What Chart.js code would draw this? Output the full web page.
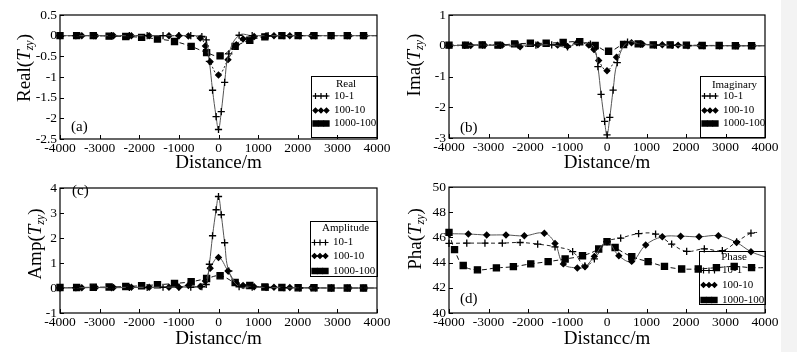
<!DOCTYPE html>
<html>
<head>
<meta charset="utf-8">
<script src="https://cdn.jsdelivr.net/npm/chart.js@4.4.0/dist/chart.umd.min.js"></script>
<style>
  body { margin: 0; background: #fff; width: 797px; height: 352px; overflow: hidden; position: relative; }
  .panel { position: absolute; }
  .strip { position: absolute; left: 781px; top: 0; width: 16px; height: 352px; background: #f3f3f3; }
</style>
</head>
<body>
<div class="panel" style="left:0;top:0;width:397px;height:176px"><canvas id="chartA"></canvas></div>
<div class="panel" style="left:397px;top:0;width:400px;height:176px"><canvas id="chartB"></canvas></div>
<div class="panel" style="left:0;top:176px;width:397px;height:176px"><canvas id="chartC"></canvas></div>
<div class="panel" style="left:397px;top:176px;width:400px;height:176px"><canvas id="chartD"></canvas></div>
<div class="strip"></div>
<script>
const SERIF = '"Liberation Serif", "Times New Roman", serif';
const seriesNames = ["10-1", "100-10", "1000-100"];

// distances (m) of the sample points, panels a-c
const distPlus = [-4000, -3600, -3150, -2700, -2250, -1800, -1400, -1000, -700, -420, -310, -230, -150, -60, 0, 70, 155, 260, 520, 850, 1250, 1650, 2050, 2450, 2850, 3250, 3650, 4000];
const distDiamond = [-4000, -3450, -3100, -2650, -2200, -1750, -1250, -1000, -760, -460, -330, -210, 0, 240, 450, 620, 900, 1200, 1400, 1800, 2350, 2850, 3300, 3700, 4000];
const distSquare = [-4000, -3580, -3160, -2760, -2340, -1940, -1540, -1110, -690, -300, 40, 420, 790, 1170, 1600, 2010, 2410, 2840, 3250, 3660, 4000];

// (a) real part
const realPlus = [0, 0, 0, 0, 0, 0, 0, 0, 0, -0.02, -0.1, -0.62, -1.32, -1.96, -2.27, -1.84, -1.13, -0.44, 0.01, 0, 0, 0, 0, 0, 0, 0, 0, 0];
const realDiamond = [0, 0, 0, 0, 0, 0, 0, 0, -0.01, -0.06, -0.25, -0.63, -0.95, -0.58, -0.22, -0.08, -0.02, 0, 0, 0, 0, 0, 0, 0, 0];
const realSquare = [0, 0, 0, -0.01, -0.02, -0.04, -0.08, -0.14, -0.26, -0.41, -0.49, -0.26, -0.11, -0.03, 0, 0, 0, 0, 0, 0, 0];

// (b) imaginary part
const imagPlus = [0.01, 0.01, 0.02, 0.01, 0.02, 0.02, 0.03, -0.04, 0.1, 0.05, -0.1, -0.68, -1.58, -2.46, -2.9, -2.33, -1.44, -0.55, 0.12, 0.05, 0.02, 0.01, 0, 0, 0, 0, 0, 0];
const imagDiamond = [0, 0.01, 0.02, 0.02, -0.03, 0.03, 0.02, -0.02, 0.1, 0.02, -0.12, -0.48, -0.81, -0.37, 0.05, 0.1, 0.05, 0.02, 0.03, 0.02, 0.01, 0, 0, 0, 0];
const imagSquare = [0.02, 0.02, 0.03, 0.02, 0.06, 0.08, 0.08, 0.11, 0.13, 0.01, -0.18, 0.04, 0.06, 0.03, 0.03, 0.02, 0.01, 0.01, 0, 0, 0];

// (c) amplitude
const ampPlus = [0.01, 0.01, 0.02, 0.01, 0.02, 0.02, 0.03, 0.04, 0.03, 0.05, 0.14, 0.95, 2.09, 3.13, 3.66, 2.93, 1.81, 0.68, 0.05, 0.03, 0.02, 0.01, 0, 0, 0, 0, 0, 0];
const ampDiamond = [0, 0.01, 0.02, 0.02, 0.03, 0.03, 0.03, 0.03, 0.1, 0.06, 0.28, 0.79, 1.22, 0.68, 0.2, 0.1, 0.05, 0.02, 0.03, 0.02, 0.01, 0, 0, 0, 0];
const ampSquare = [0.02, 0.02, 0.03, 0.04, 0.06, 0.09, 0.13, 0.18, 0.25, 0.38, 0.49, 0.22, 0.1, 0.04, 0.02, 0.01, 0.01, 0, 0, 0, 0];

// (d) phase, own sample points
const phaseDistPlus = [-4000, -3550, -3090, -2650, -2200, -1755, -1316, -870, -560, -320, 0, 346, 800, 1230, 1637, 2017, 2464, 2920, 3282, 3645, 3800];
const phasePlus = [45.53, 45.55, 45.55, 45.55, 45.6, 45.47, 45.26, 44.87, 43.75, 44.3, 45.66, 45.95, 46.3, 46.27, 45.47, 44.9, 45.1, 44.95, 45.66, 46.34, 46.4];
const phaseDistDiamond = [-4000, -3510, -3046, -2557, -2093, -1586, -1316, -1105, -751, -557, -321, 0, 300, 625, 980, 1400, 1865, 2330, 2820, 3280, 3645, 4000];
const phaseDiamond = [46.3, 46.27, 46.2, 46.2, 46.13, 46.34, 45.53, 43.9, 43.58, 43.68, 44.5, 45.66, 44.55, 44.1, 45.4, 46.05, 46.1, 46.05, 46.13, 45.6, 44.87, 44.47];
const phaseDistSquare = [-4000, -3860, -3640, -3280, -2800, -2370, -1930, -1490, -1060, -620, -210, 0, 205, 627, 1040, 1455, 1890, 2310, 2770, 3220, 3660, 4000];
const phaseSquare = [46.4, 45.03, 43.77, 43.43, 43.58, 43.68, 43.9, 44.08, 44.29, 44.55, 45.08, 45.66, 45.2, 44.47, 44.08, 43.7, 43.5, 43.5, 43.6, 43.7, 43.6, 43.6];

function pts(xs, ys) {
  return xs.map((x, i) => ({ x: x, y: ys[i] }));
}

// last point of every series only carries the line to the frame
function lastHidden(r) {
  return ctx => (ctx.dataIndex === ctx.dataset.data.length - 1 ? 0 : r);
}

const markers = [
  { pointStyle: "cross", radius: 3.6, legendRadius: 3 },
  { pointStyle: "rectRot", radius: 2.8, legendRadius: 2.4 },
  { pointStyle: "rect", radius: 4.3, legendRadius: 3.6 },
];

function makeSet(i, xs, ys, line) {
  return {
    label: seriesNames[i],
    data: pts(xs, ys),
    showLine: true,
    tension: 0.4,
    borderColor: line.color,
    borderWidth: 1,
    borderDash: line.dash,
    pointStyle: markers[i].pointStyle,
    legendRadius: markers[i].legendRadius,
    pointRadius: lastHidden(markers[i].radius),
    pointHoverRadius: 0,
    pointBorderWidth: 1.3,
    pointBorderColor: "#000",
    pointBackgroundColor: "#000",
    clip: 8,
  };
}

const decor = {
  id: "decor",
  beforeDatasetsDraw(chart, args, opts) {
    const ctx = chart.ctx;
    const lg = opts.legend;
    ctx.save();
    ctx.strokeStyle = "#000";
    ctx.fillStyle = "#000";
    ctx.lineWidth = 1;
    ctx.strokeRect(lg.x + 0.5, lg.y + 0.5, lg.w, lg.h);
    ctx.font = "11px " + SERIF;
    ctx.textBaseline = "middle";
    ctx.textAlign = "center";
    ctx.fillText(lg.title, lg.x + lg.w / 2 + 2, lg.y + lg.rows[0]);
    ctx.textAlign = "left";
    chart.data.datasets.forEach((ds, i) => {
      const yy = lg.y + lg.rows[i + 1];
      ctx.setLineDash([]);
      ctx.lineWidth = 1;
      ctx.beginPath();
      ctx.moveTo(lg.x + 2, yy);
      ctx.lineTo(lg.x + 17, yy);
      ctx.stroke();
      [4.5, 10, 15.5].forEach(dx => {
        ctx.lineWidth = 1.2;
        Chart.helpers.drawPoint(ctx, { pointStyle: ds.pointStyle, radius: ds.legendRadius, borderWidth: 1.2, rotation: 0 }, lg.x + dx, yy);
      });
      ctx.fillText(ds.label, lg.x + 23, yy);
    });
    ctx.restore();
  },
  afterDraw(chart, args, opts) {
    const ctx = chart.ctx;
    const a = chart.chartArea;
    const sx = chart.scales.x;
    const sy = chart.scales.y;
    ctx.save();
    ctx.strokeStyle = "#000";
    ctx.lineWidth = 1.2;
    ctx.strokeRect(a.left, a.top, a.right - a.left, a.bottom - a.top);
    // short inward tick marks
    ctx.lineWidth = 1;
    ctx.beginPath();
    sx.ticks.forEach(t => {
      const p = Math.round(sx.getPixelForValue(t.value)) + 0.5;
      ctx.moveTo(p, a.bottom);
      ctx.lineTo(p, a.bottom - 4);
    });
    sy.ticks.forEach(t => {
      const p = Math.round(sy.getPixelForValue(t.value)) + 0.5;
      ctx.moveTo(a.left, p);
      ctx.lineTo(a.left + 4, p);
    });
    ctx.stroke();

    ctx.fillStyle = "#000";
    ctx.textBaseline = "middle";
    // x title
    ctx.textAlign = "center";
    ctx.font = "19px " + SERIF;
    ctx.fillText(opts.xTitle, (a.left + a.right) / 2, opts.xTitleY);
    // panel label
    ctx.textAlign = "left";
    ctx.font = "15px " + SERIF;
    ctx.fillText(opts.label, opts.labelX, opts.labelY);
    // y title with italic T and subscript zy
    const parts = [
      { t: opts.yName + "(", f: "19px " + SERIF, dy: 0 },
      { t: "T", f: "italic 19px " + SERIF, dy: 0 },
      { t: "zy", f: "italic 12px " + SERIF, dy: 5 },
      { t: ")", f: "19px " + SERIF, dy: 0 },
    ];
    let total = 0;
    parts.forEach(p => { ctx.font = p.f; p.w = ctx.measureText(p.t).width; total += p.w; });
    ctx.translate(opts.yTitleX, opts.yTitleY);
    ctx.rotate(-Math.PI / 2);
    let cx = -total / 2;
    parts.forEach(p => {
      ctx.font = p.f;
      ctx.fillText(p.t, cx, p.dy);
      cx += p.w;
    });
    ctx.restore();
  },
};

function makePanel(id, cfg) {
  const tickFont = { family: SERIF, size: 13.5 };
  return new Chart(document.getElementById(id), {
    type: "scatter",
    data: { datasets: cfg.datasets },
    options: {
      responsive: true,
      maintainAspectRatio: false,
      animation: false,
      events: [],
      layout: { padding: { top: cfg.padTop, right: cfg.padRight, left: 0, bottom: 0 } },
      plugins: {
        legend: { display: false },
        tooltip: { enabled: false },
        decor: cfg.decor,
      },
      scales: {
        x: {
          type: "linear",
          min: -4000,
          max: 4000,
          grid: { display: false, drawTicks: false },
          border: { display: false },
          ticks: { stepSize: 1000, color: "#000", font: tickFont, padding: 1, maxRotation: 0, callback: v => String(v) },
          afterFit: s => { s.height = cfg.xHeight; },
        },
        y: {
          min: cfg.yMin,
          max: cfg.yMax,
          grid: { display: false, drawTicks: false },
          border: { display: false },
          ticks: { stepSize: cfg.yStep, color: "#000", font: tickFont, padding: 3, callback: v => String(v) },
          afterFit: s => { s.width = cfg.yWidth; },
        },
      },
    },
    plugins: [decor],
  });
}

const solidGray = { color: "#555", dash: [] };
const dotted = { color: "#222", dash: [2, 2] };
const dashed = { color: "#111", dash: [5, 3] };

makePanel("chartA", {
  datasets: [
    makeSet(0, distPlus, realPlus, solidGray),
    makeSet(1, distDiamond, realDiamond, dotted),
    makeSet(2, distSquare, realSquare, dashed),
  ],
  yMin: -2.5, yMax: 0.5, yStep: 0.5,
  padTop: 15, padRight: 20, xHeight: 37, yWidth: 60,
  decor: {
    xTitle: "Distance/m", xTitleY: 163, yName: "Real", yTitleX: 25, yTitleY: 68,
    label: "(a)", labelX: 71, labelY: 127,
    legend: { title: "Real", x: 311, y: 76, w: 66, h: 61, rows: [8, 20, 34.5, 47.5] },
  },
});

makePanel("chartB", {
  datasets: [
    makeSet(0, distPlus, imagPlus, solidGray),
    makeSet(1, distDiamond, imagDiamond, dotted),
    makeSet(2, distSquare, imagSquare, dashed),
  ],
  yMin: -3, yMax: 1, yStep: 1,
  padTop: 15, padRight: 32, xHeight: 38, yWidth: 52,
  decor: {
    xTitle: "Distance/m", xTitleY: 163, yName: "Ima", yTitleX: 18, yTitleY: 65,
    label: "(b)", labelX: 63, labelY: 128,
    legend: { title: "Imaginary", x: 303, y: 76, w: 65, h: 61, rows: [9, 20, 34.5, 47.5] },
  },
});

makePanel("chartC", {
  datasets: [
    makeSet(0, distPlus, ampPlus, solidGray),
    makeSet(1, distDiamond, ampDiamond, solidGray),
    makeSet(2, distSquare, ampSquare, dashed),
  ],
  yMin: -1, yMax: 4, yStep: 1,
  padTop: 12, padRight: 20, xHeight: 39, yWidth: 60,
  decor: {
    xTitle: "Distancc/m", xTitleY: 163, yName: "Amp", yTitleX: 36, yTitleY: 68,
    label: "(c)", labelX: 72, labelY: 15,
    legend: { title: "Amplitude", x: 310, y: 45, w: 67, h: 55, rows: [7, 21.5, 35, 50] },
  },
});

makePanel("chartD", {
  datasets: [
    makeSet(0, phaseDistPlus, phasePlus, { color: "#222", dash: [4, 3] }),
    makeSet(1, phaseDistDiamond, phaseDiamond, solidGray),
    makeSet(2, phaseDistSquare, phaseSquare, dashed),
  ],
  yMin: 40, yMax: 50, yStep: 2,
  padTop: 10, padRight: 32, xHeight: 39, yWidth: 52,
  decor: {
    xTitle: "Distancc/m", xTitleY: 163, yName: "Pha", yTitleX: 19, yTitleY: 63,
    label: "(d)", labelX: 63, labelY: 123,
    legend: { title: "Phase", x: 302, y: 75, w: 66, h: 53, rows: [6, 19.5, 34, 49] },
  },
});
</script>
</body>
</html>
